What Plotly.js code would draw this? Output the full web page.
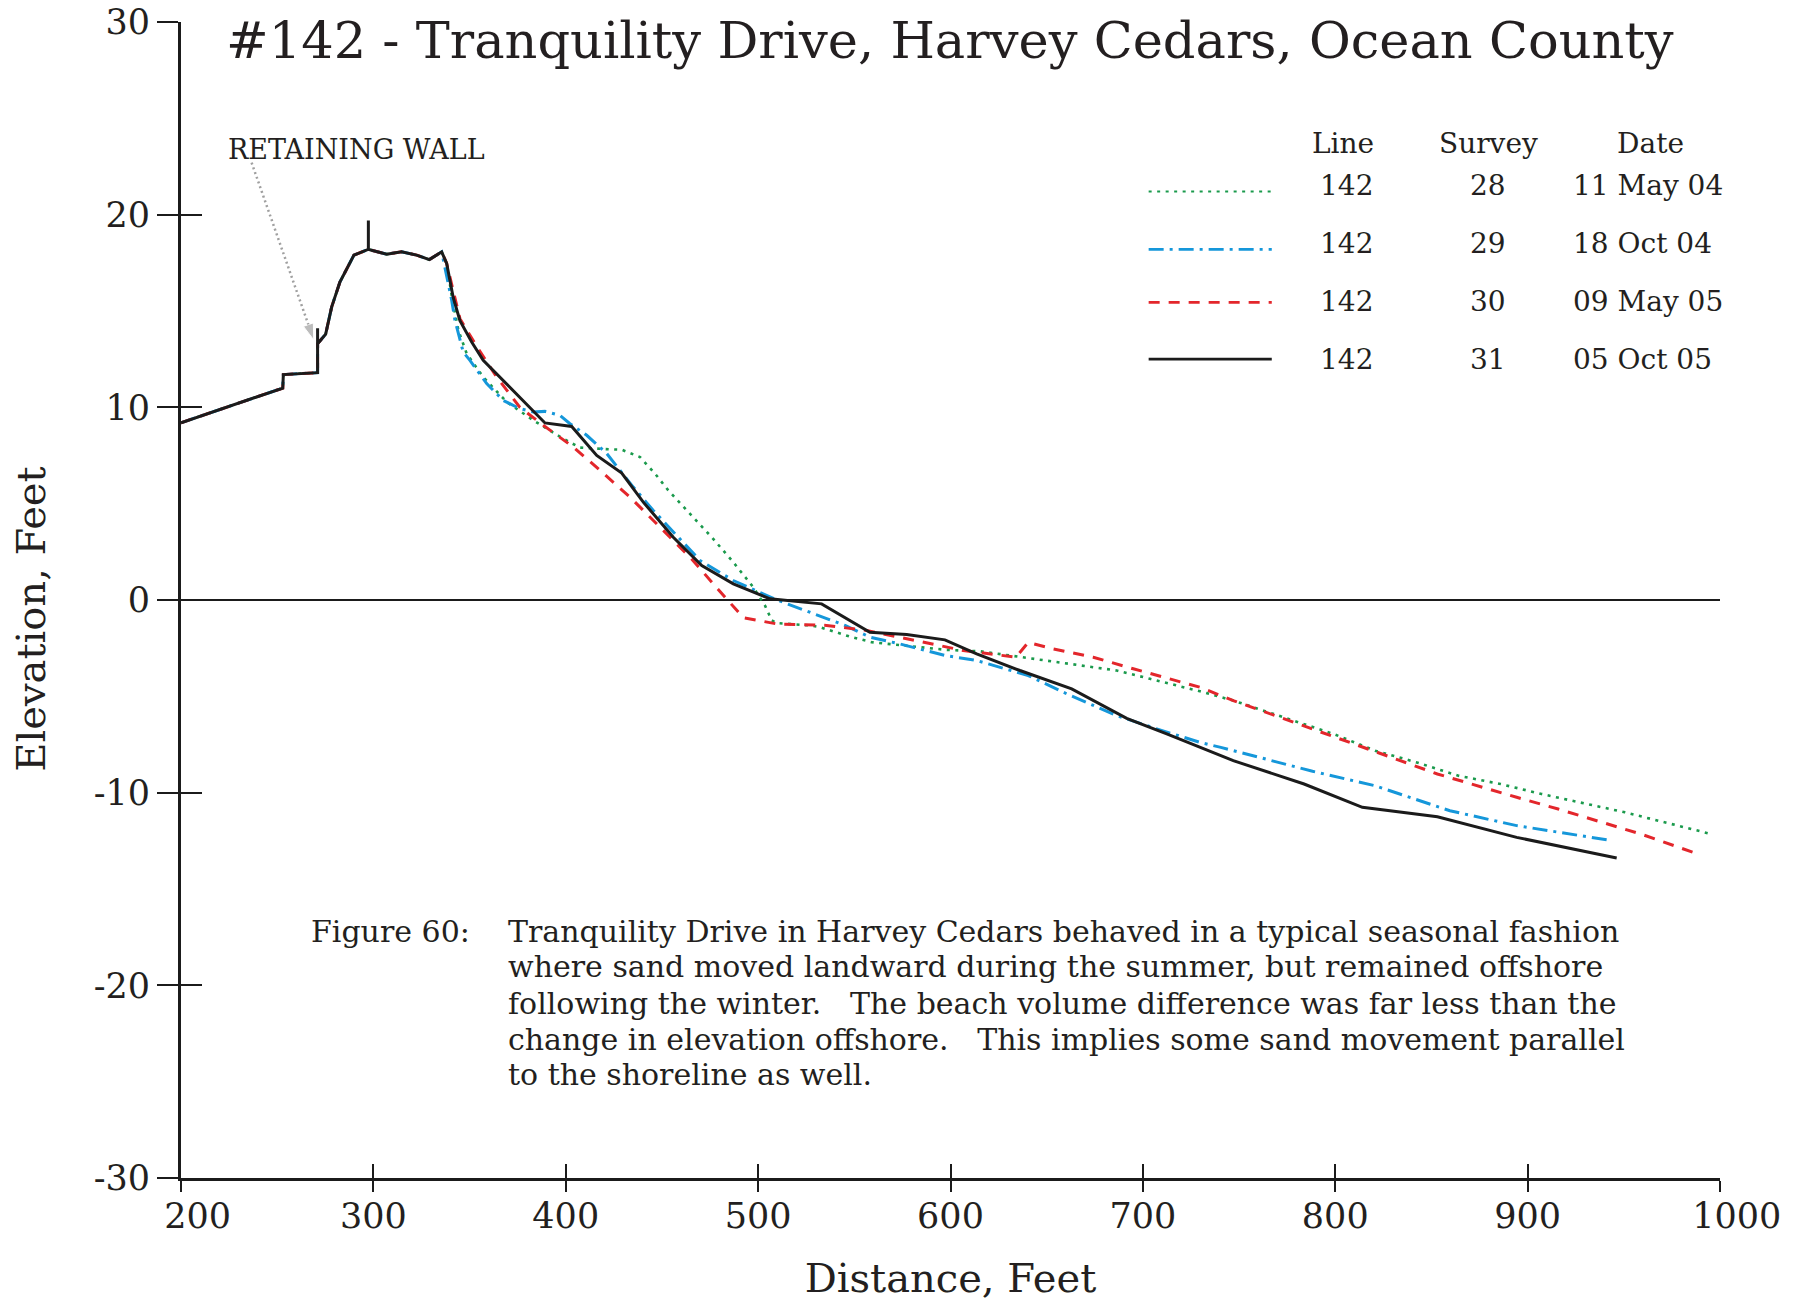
<!DOCTYPE html>
<html>
<head>
<meta charset="utf-8">
<script src="https://cdn.plot.ly/plotly-3.0.1.min.js"></script>
<style>html,body{margin:0;padding:0;background:#fff;}#chart{width:1797px;height:1301px;}</style>
</head>
<body>
<div id="chart"></div>
<script>
// ---- data (distance ft, elevation ft) ----
const s28x = [200, 252.9, 253.2, 271.0, 271.0, 275.2, 278.3, 282.6, 289.9, 297.4, 306.9, 314.7, 322.5, 329.1, 335.5, 338.1, 341.0, 344.2, 348.5, 357.1, 369.3, 383.1, 398.7, 407.4, 423.0, 429.1, 438.6, 446.4, 453.3, 464.6, 475.9, 487.1, 494.1, 497.5, 503.6, 507.1, 509.6, 526.9, 532.1, 547.7, 559.0, 598.0, 615.3, 630.9, 643.0, 669.0, 686.4, 703.7, 729.7, 747.0, 799.0, 820.7, 842.4, 864.0, 885.9, 907.3, 950.6, 993.9];
const s28y = [9.2, 11.0, 11.7, 11.8, 13.3, 13.8, 15.2, 16.5, 17.9, 18.2, 17.95, 18.07, 17.9, 17.67, 18.07, 17.47, 15.6, 14.0, 12.79, 11.57, 10.28, 9.33, 8.37, 7.91, 7.82, 7.8, 7.42, 6.56, 5.69, 4.48, 3.26, 1.96, 1.1, 0.66, -0.29, -1.06, -1.2, -1.32, -1.41, -1.9, -2.19, -2.59, -2.66, -2.88, -3.05, -3.4, -3.66, -4.09, -4.74, -5.22, -6.95, -7.82, -8.43, -9.12, -9.55, -10.07, -11.02, -12.11];

const s29x = [200, 252.9, 253.2, 271.0, 271.0, 275.2, 278.3, 282.6, 289.9, 297.4, 306.9, 314.7, 322.5, 329.1, 335.5, 338.1, 340.7, 342.4, 345.0, 346.7, 350.2, 358.9, 367.5, 376.2, 383.1, 389.2, 397.0, 402.2, 410.9, 421.3, 435.1, 445.5, 469.8, 487.1, 509.6, 528.7, 545.2, 558.1, 573.7, 597.1, 613.6, 640.4, 660.4, 686.4, 707.2, 729.7, 740.5, 788.2, 820.7, 859.6, 894.3, 941.9];
const s29y = [9.2, 11.0, 11.7, 11.8, 13.3, 13.8, 15.2, 16.5, 17.9, 18.2, 17.95, 18.07, 17.9, 17.67, 18.07, 16.86, 15.56, 14.52, 13.48, 12.87, 12.44, 11.23, 10.36, 9.93, 9.76, 9.79, 9.58, 9.15, 8.55, 7.6, 5.86, 4.65, 2.05, 1.01, 0.01, -0.72, -1.32, -1.93, -2.28, -2.88, -3.14, -3.92, -4.87, -6.0, -6.69, -7.39, -7.65, -8.89, -9.64, -10.94, -11.71, -12.46];

const s30x = [200, 252.9, 253.2, 271.0, 271.0, 275.2, 278.3, 282.6, 289.9, 297.4, 306.9, 314.7, 322.5, 329.1, 335.5, 338.1, 345.0, 348.5, 352.8, 364.1, 376.2, 388.3, 403.9, 417.8, 433.4, 449.0, 464.6, 476.7, 483.7, 492.3, 509.6, 535.6, 556.4, 580.6, 606.6, 634.0, 640.4, 653.4, 674.2, 695.0, 715.8, 729.7, 747.0, 814.1, 853.1, 894.3, 915.9, 959.2, 989.6];
const s30y = [9.2, 11.0, 11.7, 11.8, 13.3, 13.8, 15.2, 16.5, 17.9, 18.2, 17.95, 18.07, 17.9, 17.67, 18.07, 17.47, 14.6, 14.0, 13.31, 11.57, 10.0, 9.07, 7.94, 6.73, 5.34, 3.78, 2.22, 0.84, 0.06, -0.92, -1.24, -1.32, -1.58, -2.07, -2.62, -2.97, -2.2, -2.54, -2.97, -3.57, -4.15, -4.53, -5.22, -7.65, -9.03, -10.24, -10.85, -12.16, -13.22];

const s31x = [200, 252.9, 253.2, 271.0, 271.0, 271.0, 275.2, 278.3, 282.6, 289.9, 297.4, 297.4, 297.4, 306.9, 314.7, 322.5, 329.1, 335.5, 338.1, 341.5, 345.0, 351.1, 357.1, 389.2, 403.1, 416.1, 429.1, 440.3, 455.9, 470.7, 487.1, 506.2, 533.0, 558.1, 577.2, 597.1, 613.6, 636.1, 663.0, 691.6, 712.4, 747.0, 783.8, 814.1, 853.1, 894.3, 946.3];
const s31y = [9.2, 11.0, 11.7, 11.8, 14.1, 13.3, 13.8, 15.2, 16.5, 17.9, 18.2, 19.7, 18.2, 17.95, 18.07, 17.9, 17.67, 18.07, 17.47, 15.7, 14.5, 13.39, 12.44, 9.19, 9.01, 7.5, 6.59, 5.08, 3.26, 1.79, 0.84, 0.06, -0.2, -1.67, -1.79, -2.07, -2.8, -3.66, -4.61, -6.14, -6.95, -8.34, -9.55, -10.76, -11.25, -12.32, -13.39];

// legend table
const legendHeaders = ["Line", "Survey", "Date"];
const legendLine = ["142", "142", "142", "142"];
const legendSurvey = ["28", "29", "30", "31"];
const legendDate = ["11 May 04", "18 Oct 04", "09 May 05", "05 Oct 05"];

// x ticks / y ticks
const xTicks = [200, 300, 400, 500, 600, 700, 800, 900, 1000];
const xTickText = ["&nbsp;&nbsp;&nbsp;200", "300", "400", "500", "600", "700", "800", "900", "&nbsp;&nbsp;&nbsp;1000"];
const yTicks = [-30, -20, -10, 0, 10, 20, 30];

// retaining wall pointer
const wallArrowX = [236.7, 269.0];
const wallArrowY = [22.7, 13.5];

const chartTitle = "#142 - Tranquility Drive, Harvey Cedars, Ocean County";
const captionLabel = "Figure 60:";
const captionLines = [
  "Tranquility Drive in Harvey Cedars behaved in a typical seasonal fashion",
  "where sand moved landward during the summer, but remained offshore",
  "following the winter.&nbsp;&nbsp; The beach volume difference was far less than the",
  "change in elevation offshore.&nbsp;&nbsp; This implies some sand movement parallel",
  "to the shoreline as well."
];

// ---- styles ----
const FONT = "DejaVu Serif, Liberation Serif, serif";
const TXT = "#231f20";
const styles = [
  {color: "#1a9a4c", dash: "3px,5.5px", width: 2.6},
  {color: "#1597da", dash: "15px,6px,3px,6px", width: 3},
  {color: "#e3262b", dash: "11px,9px", width: 3},
  {color: "#1b1b1b", dash: "solid", width: 3}
];
const seriesX = [s28x, s29x, s30x, s31x];
const seriesY = [s28y, s29y, s30y, s31y];

const traces = seriesX.map((xs, i) => ({
  type: "scatter", mode: "lines", x: xs, y: seriesY[i],
  line: {color: styles[i].color, dash: styles[i].dash, width: styles[i].width},
  name: "Survey " + legendSurvey[i], showlegend: false, hoverinfo: "x+y"
}));

traces.push({
  type: "scatter", mode: "lines+markers", x: wallArrowX, y: wallArrowY,
  line: {color: "#a0a0a0", dash: "2px,3px", width: 2.5},
  marker: {symbol: "arrow", angleref: "previous", size: [0, 17], color: "#a0a0a0"},
  showlegend: false, hoverinfo: "skip"
});
traces.push({type: "scatter", x: [], y: [], xaxis: "x2", yaxis: "y2", showlegend: false, hoverinfo: "skip"});

// legend positions (data coordinates)
const legHeadY = 23.7;
const legRowY = [21.5, 18.5, 15.5, 12.5];
const legSampleOff = [-0.3, -0.3, -0.05, 0];
const legSampleX0 = 703, legSampleX1 = 767;
const colLineX = 804, colSurveyX = 879.5, colDateX = 922.5, colDateHeadX = 964;

const annotations = [];
const shapes = [];
const hdrX = [colLineX, colSurveyX, colDateHeadX];
legendHeaders.forEach((h, i) => annotations.push({
  x: hdrX[i], y: legHeadY, xref: "x", yref: "y", text: h, showarrow: false,
  xanchor: "center", yanchor: "middle", font: {family: FONT, size: 28, color: TXT}
}));
legendLine.forEach((v, i) => {
  annotations.push({x: 806, y: legRowY[i], xref: "x", yref: "y", text: v, showarrow: false,
    xanchor: "center", yanchor: "middle", font: {family: FONT, size: 28, color: TXT}});
  annotations.push({x: colSurveyX, y: legRowY[i], xref: "x", yref: "y", text: legendSurvey[i], showarrow: false,
    xanchor: "center", yanchor: "middle", font: {family: FONT, size: 28, color: TXT}});
  annotations.push({x: colDateX, y: legRowY[i], xref: "x", yref: "y", text: legendDate[i], showarrow: false,
    xanchor: "left", yanchor: "middle", font: {family: FONT, size: 28, color: TXT}});
  shapes.push({type: "line", xref: "x", yref: "y", x0: legSampleX0, x1: legSampleX1,
    y0: legRowY[i] + legSampleOff[i], y1: legRowY[i] + legSampleOff[i],
    line: {color: styles[i].color, dash: styles[i].dash, width: i === 0 ? 2 : 2.6}});
});

annotations.push({
  x: 223.6, y: 23.4, xref: "x", yref: "y", text: "RETAINING WALL", showarrow: false,
  xanchor: "left", yanchor: "middle", font: {family: FONT, size: 27, color: TXT}
});
const capRowY = [-17.2, -19.04, -20.95, -22.8, -24.64];
annotations.push({
  x: 266.4, y: capRowY[0], xref: "x", yref: "y", text: captionLabel, showarrow: false,
  xanchor: "left", yanchor: "middle", align: "left", font: {family: FONT, size: 30, color: TXT}
});
captionLines.forEach((t, i) => annotations.push({
  x: 368.8, y: capRowY[i], xref: "x", yref: "y", text: t, showarrow: false,
  xanchor: "left", yanchor: "middle", align: "left", font: {family: FONT, size: 30, color: TXT}
}));

const layout = {
  width: 1797, height: 1301,
  paper_bgcolor: "#ffffff", plot_bgcolor: "#ffffff",
  margin: {l: 181, r: 77, t: 22, b: 123},
  showlegend: false,
  title: {text: chartTitle, font: {family: FONT, size: 51, color: TXT},
    xref: "container", x: 0.1258, xanchor: "left", yref: "container", y: 0.969, yanchor: "middle"},
  xaxis: {
    range: [200, 1000], tickvals: xTicks, ticktext: xTickText,
    ticks: "outside", ticklen: 11, tickwidth: 2, tickcolor: "#1b1b1b",
    showline: true, linewidth: 3, linecolor: "#1b1b1b", showgrid: false, zeroline: false,
    tickfont: {family: FONT, size: 35, color: TXT}, ticklabelstandoff: -6,
    title: {text: "Distance, Feet", font: {family: FONT, size: 40, color: TXT}, standoff: 30}
  },
  yaxis: {
    range: [-30, 30], tickvals: yTicks, ticktext: yTicks.map(String),
    ticks: "outside", ticklen: 21, tickwidth: 2, tickcolor: "#1b1b1b",
    showline: true, linewidth: 3, linecolor: "#1b1b1b", showgrid: false,
    zeroline: true, zerolinecolor: "#1b1b1b", zerolinewidth: 2.5,
    tickfont: {family: FONT, size: 35, color: TXT},
    title: {text: "Elevation, Feet&nbsp;&nbsp;&nbsp;", font: {family: FONT, size: 40, color: TXT}, standoff: 36}
  },
  xaxis2: {overlaying: "x", anchor: "y2", side: "bottom", range: [200, 1000], tickvals: xTicks,
    ticks: "inside", ticklen: 14, tickwidth: 2, tickcolor: "#1b1b1b", showticklabels: false,
    showline: false, showgrid: false, zeroline: false},
  yaxis2: {overlaying: "y", anchor: "x2", side: "left", range: [-30, 30], tickvals: yTicks,
    ticks: "inside", ticklen: 21, tickwidth: 2, tickcolor: "#1b1b1b", showticklabels: false,
    showline: false, showgrid: false, zeroline: false},
  annotations: annotations,
  shapes: shapes
};

Plotly.newPlot("chart", traces, layout, {displayModeBar: false, staticPlot: true});
</script>
</body>
</html>
